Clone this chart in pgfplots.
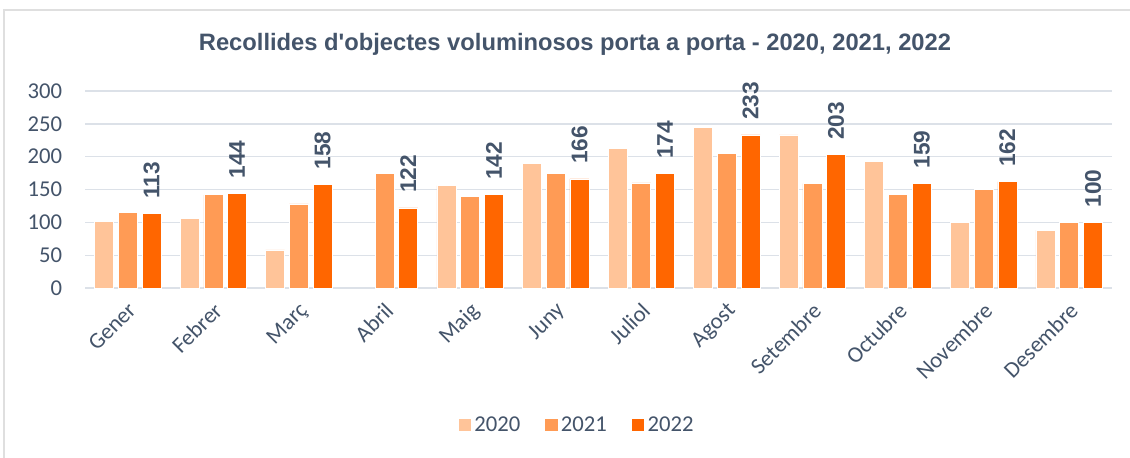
\documentclass[border=0pt]{standalone}
\usepackage{pgfplots}
\pgfplotsset{compat=1.18}
\usepackage{fontspec}
\setmainfont{Carlito}
\newfontfamily\arialfont{Liberation Sans}
\definecolor{txt}{HTML}{44546A}
\definecolor{cA}{HTML}{FFC499}
\definecolor{cB}{HTML}{FF9B55}
\definecolor{cC}{HTML}{FF6600}
\definecolor{gridc}{HTML}{DCE1E8}
\begin{document}
\begin{tikzpicture}
\useasboundingbox (0,0) rectangle (847.5pt,342.75pt);
\fill[white] (0,0) rectangle (847.5pt,342.75pt);
\draw[color=gray!25, line width=1pt] (3pt,-5pt) rectangle (855pt,335.25pt);
\node[font=\arialfont\bfseries\fontsize{17.8}{21}\selectfont, text=txt] at (431.25pt,309.75pt) {Recollides d'objectes voluminosos porta a porta - 2020, 2021, 2022};
\begin{axis}[
 at={(63.75pt,126.75pt)}, anchor=south west,
 scale only axis, width=770.25pt, height=147.75pt,
 xmin=-0.5, xmax=11.5, ymin=0, ymax=300,
 ytick={0,50,...,300},
 xtick={0,...,11},
 xticklabels={Gener,Febrer,Març,Abril,Maig,Juny,Juliol,Agost,Setembre,Octubre,Novembre,Desembre},
 axis line style={draw=none},
 major tick length=0pt,
 ymajorgrids, grid style={gridc, line width=1pt},
 tick label style={font=\fontsize{17}{20}\selectfont, text=txt},
 /pgf/number format/assume math mode=true,
 yticklabel style={anchor=east, inner sep=0pt, xshift=-17pt},
 xticklabel style={xshift=-0.7pt, yshift=-9.7pt, rotate=45, anchor=north east, inner sep=0pt},
 ybar, bar width=14.25pt,
 legend style={at={(0.479,-0.695)}, anchor=center, draw=none, legend columns=3,
   font=\fontsize{17}{20}\selectfont, text=txt,
   /tikz/every even column/.append style={column sep=16pt}},
 legend image code/.code={\fill[#1] (0pt,-5pt) rectangle (10pt,5pt);},
]
\addplot[fill=cA, draw=white, line width=0.5pt, bar shift=-17.8pt] coordinates {
(0,101) (1,106) (2,58) (4,156) (5,190) (6,212) (7,245) (8,233) (9,193) (10,100) (11,88)};
\addplot[fill=cB, draw=white, line width=0.5pt, bar shift=0pt] coordinates {
(0,115) (1,142) (2,128) (3,174) (4,140) (5,174) (6,160) (7,205) (8,159) (9,143) (10,150) (11,100)};
\addplot[fill=cC, draw=white, line width=0.5pt, bar shift=17.8pt,
  nodes near coords,
  nodes near coords style={rotate=90, anchor=west, font=\arialfont\bfseries\fontsize{17}{20}\selectfont, text=txt, inner xsep=11pt, inner ysep=0pt}] coordinates {
(0,113) (1,144) (2,158) (3,122) (4,142) (5,166) (6,174) (7,233) (8,203) (9,159) (10,162) (11,100)};
\legend{2020,2021,2022}
\end{axis}
\end{tikzpicture}
\end{document}
